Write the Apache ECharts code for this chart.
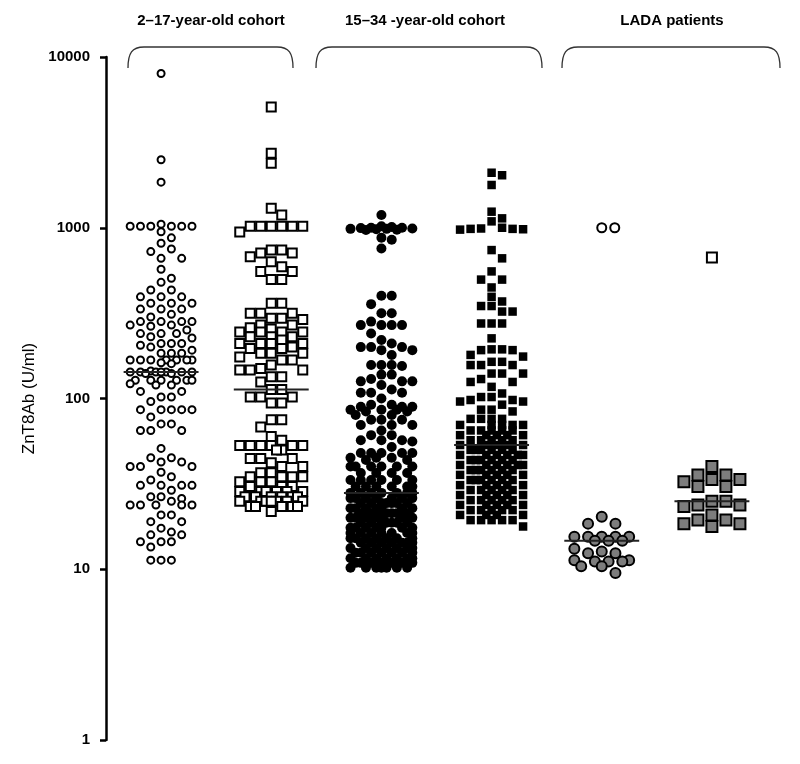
<!DOCTYPE html>
<html>
<head>
<meta charset="utf-8">
<script src="https://cdn.jsdelivr.net/npm/echarts@6/dist/echarts.min.js"></script>
<style>
    html, body { margin: 0; background: #fff; }
    #chart { width: 800px; height: 764px; }
</style>
</head>
<body>
<div id="chart"></div>
<script>
// cohort headings over the braces
var cohortTitles = ['2\u201317-year-old cohort', '15\u201334 -year-old cohort', 'LADA patients'];
var yTicks = [1, 10, 100, 1000, 10000];

// ZnT8Ab (U/ml), one array per column
var youngCircles = [8000, 2500, 1850,
    1050, 1020, 1020, 1020, 1020, 1020, 1020,
    948, 873, 811, 751, 725, 662, 662, 571, 506, 479,
    432, 432, 394, 394, 394, 361, 361, 361, 334, 334,
    334, 311, 300, 282, 282, 282, 282, 269, 269, 265,
    252, 240, 240, 240, 230, 226, 210, 210, 210, 205,
    200, 192, 184, 184, 184,
    168, 168, 168, 168, 168, 168, 168, 162, 160,
    145, 143, 143, 143, 143, 143, 143, 143, 140, 140,
    128, 128, 128, 128, 128, 128, 122, 120, 120,
    110, 110, 102, 102, 96, 86, 86, 86, 86, 86, 78, 71, 71, 65, 65, 65,
    51, 45, 45, 42.5, 42.5, 40, 40, 40, 37, 34.8,
    33.3, 31, 31, 31, 31, 29, 26.6, 26.6, 26, 25,
    23.8, 23.8, 23.8, 23.8, 23.8,
    20.8, 20.8, 19, 19, 17.4, 16.5, 15.9, 15.9, 14.5, 14.5,
    14.5, 13.5, 11.3, 11.3, 11.3];

var youngSquares = [5100, 2730, 2385, 1300, 1188,
    1020, 1020, 1020, 1020, 1020, 1020, 944,
    740, 740, 711, 711, 676, 633, 591, 555, 555, 497, 497,
    361, 361, 316, 316, 316, 295, 295, 290, 269, 269, 260, 255,
    245, 245, 245, 245, 230, 230, 230, 220, 210, 210, 210, 210,
    200, 196, 196, 184, 184, 184, 175, 168, 168, 157, 150, 147, 147, 147,
    134, 134, 125,
    113, 113, 102, 102, 102, 94, 94, 75, 75, 68, 60, 57,
    53, 53, 53, 53, 53, 53, 50, 50, 44.5, 44.5, 44.5, 42, 40, 40,
    36.7, 36.7, 34.8, 34.8, 34.8, 34.8, 32.5, 32.5, 32.5, 30.5, 30.5, 30.5,
    28.5, 28.5, 28.5, 28.5, 28.5, 28.5, 28.5,
    26.6, 26.6, 26.6, 26.6, 26.6, 26.6, 26.6,
    25, 25, 25, 25, 25, 25, 25,
    23.3, 23.3, 23.3, 23.3, 23.3, 21.8];

var adultCircles = [1188,
    1020, 1010, 1000, 1000, 995, 990, 985, 985, 980, 975, 970,
    873, 850, 756,
    400, 400, 357, 316, 316, 282, 269, 269, 269, 269,
    240, 220, 210, 200, 200, 200, 192, 192, 180,
    157, 157, 157, 155, 138, 138, 130, 126, 126, 126,
    120, 113, 108, 108, 108, 100, 92, 92, 89.5, 89.5,
    89.5, 86, 86, 86, 84, 84, 80, 80, 75, 75,
    75, 70, 70, 70, 65, 61, 61, 57, 57, 57,
    56, 52, 48, 48, 48, 48, 48, 45, 45, 45,
    43.6, 43.6, 40, 40, 40, 40, 40, 40,
    36.6, 36.6, 36.6, 36.6, 33.3, 33.3, 33.3, 33.3, 33.3, 33.3,
    30.5, 30.5, 30.5, 30.5, 30.5, 30.5,
    28, 28, 28, 28, 28, 28, 28,
    26.1, 26.1, 26.1, 26.1, 26.1, 26.1, 26.1,
    24.4, 24.4, 24.4, 24.4, 24.4, 24.4, 24.4,
    22.8, 22.8, 22.8, 22.8, 22.8, 22.8, 22.8,
    21.3, 21.3, 21.3, 21.3, 21.3, 21.3, 21.3,
    20, 20, 20, 20, 20, 20, 20,
    18.7, 18.7, 18.7, 18.7, 18.7, 18.7, 18.7,
    17.5, 17.5, 17.5, 17.5, 17.5, 17.5, 17.5,
    16.3, 16.3, 16.3, 16.3, 16.3, 16.3, 16.3,
    15.2, 15.2, 15.2, 15.2, 15.2, 15.2, 15.2,
    14.3, 14.3, 14.3, 14.3, 14.3, 14.3, 14.3,
    13.3, 13.3, 13.3, 13.3, 13.3, 13.3, 13.3,
    12.5, 12.5, 12.5, 12.5, 12.5, 12.5, 12.5,
    11.6, 11.6, 11.6, 11.6, 11.6, 11.6, 11.6,
    10.9, 10.9, 10.9, 10.9, 10.9, 10.9, 10.9,
    10.2, 10.2, 10.2, 10.2, 10.2, 10.2, 10.2];

var adultSquares = [2100, 2030, 1780, 1242, 1135, 1090,
    1000, 990, 985, 985, 980, 975,
    740, 662, 555, 497, 497, 447, 394, 370, 348, 348, 323, 323,
    275, 275, 275, 225, 194, 194, 192, 192, 180, 176, 164, 164,
    157, 157, 157, 140, 140, 140, 130, 125, 125, 117, 107, 102, 102,
    98, 98, 96, 96, 92, 86, 86, 84, 76, 76, 76, 76,
    70, 70, 70, 70, 70, 65, 65, 65, 65, 65,
    61, 61, 61, 61, 61, 57, 57, 57, 57, 57,
    53.4, 53.4, 53.4, 53.4, 53.4, 50, 50, 50, 50, 50, 50,
    46.7, 46.7, 46.7, 46.7, 46.7, 46.7, 43.6, 43.6, 43.6, 43.6, 43.6, 43.6,
    40.8, 40.8, 40.8, 40.8, 40.8, 40.8, 38.1, 38.1, 38.1, 38.1, 38.1, 38.1,
    35.7, 35.7, 35.7, 35.7, 35.7, 33.3, 33.3, 33.3, 33.3, 33.3, 33.3,
    31.1, 31.1, 31.1, 31.1, 31.1, 29.1, 29.1, 29.1, 29.1, 29.1,
    27.2, 27.2, 27.2, 27.2, 27.2, 25.4, 25.4, 25.4, 25.4, 25.4,
    23.8, 23.8, 23.8, 23.8, 23.8, 22.2, 22.2, 22.2, 22.2, 22.2,
    20.8, 20.8, 20.8, 20.8, 19.4, 19.4, 19.4, 19.4, 19.4, 17.8];

var ladaCircles = [20.3, 18.5, 18.5, 15.5, 15.5, 15.5, 15.5, 15.5, 14.7, 14.7,
    14.7, 13.2, 12.7, 12.4, 12.4, 11.3, 11.3, 11.1, 11.1, 11.1, 10.4, 10.4, 9.5];
var ladaCirclesHigh = [1000, 1000];
var ladaSquares = [40, 35.7, 35.7, 33.5, 33.5, 32.5, 30.5, 30.5, 25, 25,
    23.8, 23.8, 23.3, 20.8, 19.4, 19.4, 18.5, 18.5, 17.8];
var ladaSquaresHigh = [670];

var chart = echarts.init(document.getElementById('chart'));
var GRID = {left: 106, right: 33, top: 57, bottom: 24};
var pxPerUnit = (chart.getWidth() - GRID.left - GRID.right) / 6;
var pxPerDecade = (chart.getHeight() - GRID.top - GRID.bottom) / 4;

// column scatter: each point takes the first free slot next to the centre,
// when the column is full it goes where it overlaps least
function swarm(values, gi, o) {
    var sorted = values.slice().sort(function(a, b) { return b - a; });
    var slots = [0, 1, -1, 2, -2, 3, -3, 0.5, -0.5, 1.5, -1.5, 2.5, -2.5].filter(function(s) {
        return Math.abs(s * o.step) <= o.half + 0.5;
    });
    var placed = [];
    sorted.forEach(function(v) {
        var y = Math.log10(v) * pxPerDecade;
        var best = 0, bestD = -1;
        for (var i = 0; i < slots.length; i++) {
            var x = slots[i] * o.step;
            var d = Infinity;
            placed.forEach(function(p) {
                var dx = Math.abs(p.x - x), dy = Math.abs(p.y - y);
                var dd = o.square ? Math.max(dx, dy) : Math.sqrt(dx * dx + dy * dy);
                if (dd < d) d = dd;
            });
            if (d >= o.sep) { best = x; break; }
            if (d > bestD) { bestD = d; best = x; }
        }
        placed.push({x: best, y: y, v: v});
    });
    return placed.map(function(p) { return [gi + p.x / pxPerUnit, p.v]; });
}

function median(arr) {
    var s = arr.slice().sort(function(a, b) { return a - b; });
    var m = Math.floor(s.length / 2);
    return s.length % 2 ? s[m] : (s[m - 1] + s[m]) / 2;
}

var openStyle = {color: '#fff', borderColor: '#000', borderWidth: 2, opacity: 1};
var grayStyle = {color: '#7d7d7d', borderColor: '#000', borderWidth: 2, opacity: 1};
var blackStyle = {color: '#000', opacity: 1};

var columns = [
    {data: youngCircles, symbol: 'circle', size: 7, style: openStyle, lay: {step: 10.3, sep: 9.5, half: 31}},
    {data: youngSquares, symbol: 'rect', size: 9, style: openStyle, lay: {step: 10.5, sep: 10, half: 31, square: true}},
    {data: adultCircles, symbol: 'circle', size: 10, style: blackStyle, lay: {step: 10.3, sep: 9.5, half: 31}},
    {data: adultSquares, symbol: 'rect', size: 8.5, style: blackStyle, lay: {step: 10.5, sep: 9, half: 31, square: true}},
    {data: ladaCircles, symbol: 'circle', size: 10, style: grayStyle, lay: {step: 13.7, sep: 11.5, half: 28}},
    {data: ladaSquares, symbol: 'rect', size: 11, style: grayStyle, lay: {step: 14, sep: 12, half: 28, square: true}}
];

var series = [];
columns.forEach(function(c, gi) {
    series.push({
        type: 'scatter',
        symbol: c.symbol,
        symbolSize: c.size,
        itemStyle: c.style,
        data: swarm(c.data, gi, c.lay),
        z: 2
    });
});
// LADA values drawn open at the top
series.push({
    type: 'scatter', symbol: 'circle', symbolSize: 9, itemStyle: openStyle,
    data: swarm(ladaCirclesHigh, 4, {step: 13, sep: 11, half: 28}), z: 2
});
series.push({
    type: 'scatter', symbol: 'rect', symbolSize: 10, itemStyle: openStyle,
    data: swarm(ladaSquaresHigh, 5, {step: 13, sep: 11, half: 28, square: true}), z: 2
});

// median bars
var allValues = [youngCircles, youngSquares, adultCircles, adultSquares,
    ladaCircles.concat(ladaCirclesHigh), ladaSquares.concat(ladaSquaresHigh)];
allValues.forEach(function(vals, gi) {
    var m = median(vals);
    series.push({
        type: 'line',
        showSymbol: false,
        symbol: 'none',
        lineStyle: {color: '#222', width: 2},
        data: [[gi - 0.34, m], [gi + 0.34, m]],
        z: 3,
        silent: true
    });
});

var braceStyle = {fill: 'none', stroke: '#333', lineWidth: 1.3};
function brace(x, w) {
    var y0 = 47, y1 = 68;
    return [
        {type: 'bezierCurve', shape: {x1: x, y1: y1, cpx1: x, cpy1: y0 + 6, cpx2: x + 4, cpy2: y0, x2: x + 16, y2: y0}, style: braceStyle},
        {type: 'line', shape: {x1: x + 16, y1: y0, x2: x + w - 16, y2: y0}, style: braceStyle},
        {type: 'bezierCurve', shape: {x1: x + w - 16, y1: y0, cpx1: x + w - 4, cpy1: y0, cpx2: x + w, cpy2: y0 + 6, x2: x + w, y2: y1}, style: braceStyle}
    ];
}

var titleFont = 'bold 15px "Liberation Sans", Arial, sans-serif';
var graphic = [].concat(brace(128, 165), brace(316, 226), brace(562, 218), [
    {type: 'text', x: 211, y: 21, style: {text: cohortTitles[0], font: titleFont, fill: '#000', align: 'center', verticalAlign: 'middle'}},
    {type: 'text', x: 425, y: 21, style: {text: cohortTitles[1], font: titleFont, fill: '#000', align: 'center', verticalAlign: 'middle'}},
    {type: 'text', x: 672, y: 21, style: {text: cohortTitles[2], font: titleFont, fill: '#000', align: 'center', verticalAlign: 'middle'}}
]);

var option = {
    animation: false,
    backgroundColor: '#fff',
    grid: GRID,
    xAxis: {type: 'value', min: -0.5, max: 5.5, show: false},
    yAxis: {
        type: 'log',
        logBase: 10,
        min: yTicks[0],
        max: yTicks[yTicks.length - 1],
        name: 'ZnT8Ab (U/ml)',
        nameLocation: 'middle',
        nameGap: 66,
        nameTextStyle: {fontSize: 17, color: '#000', fontFamily: 'Liberation Sans, Arial, sans-serif'},
        axisLine: {show: true, onZero: false, lineStyle: {color: '#000', width: 2.5}},
        axisTick: {show: true, length: 6, lineStyle: {color: '#000', width: 2.5}},
        minorTick: {show: false},
        splitLine: {show: false},
        axisLabel: {
            color: '#000',
            fontSize: 15,
            fontWeight: 'bold',
            fontFamily: 'Liberation Sans, Arial, sans-serif',
            margin: 16,
            formatter: function(v) { return String(Math.round(v)); }
        }
    },
    graphic: graphic,
    series: series
};

chart.setOption(option);
</script>
</body>
</html>
